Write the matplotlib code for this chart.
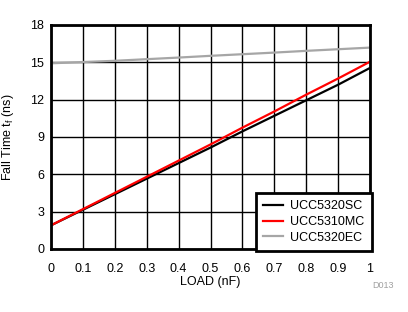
import matplotlib

matplotlib.use("Agg")
import matplotlib.pyplot as plt

plt.rcParams["font.family"] = ["Liberation Sans", "DejaVu Sans"]

load_nf = [0.0, 0.1, 0.2, 0.3, 0.4, 0.5, 0.6, 0.7, 0.8, 0.9, 1.0]
ucc5320sc = [1.9, 3.15, 4.4, 5.65, 6.9, 8.15, 9.45, 10.7, 11.95, 13.2, 14.55]
ucc5310mc = [1.9, 3.2, 4.5, 5.8, 7.1, 8.4, 9.75, 11.05, 12.4, 13.7, 15.05]
ucc5320ec = [14.92, 15.02, 15.12, 15.25, 15.38, 15.52, 15.65, 15.78, 15.92, 16.05, 16.18]

series = [
    ("UCC5320SC", ucc5320sc, "#000000"),
    ("UCC5310MC", ucc5310mc, "#ff0000"),
    ("UCC5320EC", ucc5320ec, "#a6a6a6"),
]

fig = plt.figure(figsize=(4.08, 3.12), dpi=100)
ax = fig.add_axes([0.125, 0.202, 0.782, 0.718])

for name, vals, color in series:
    ax.plot(load_nf, vals, color=color, linewidth=1.6, label=name)

ax.set_xlim(0, 1)
ax.set_ylim(0, 18)
ax.set_xticks([i / 10 for i in range(11)])
ax.set_xticklabels(["0", "0.1", "0.2", "0.3", "0.4", "0.5", "0.6", "0.7", "0.8", "0.9", "1"])
ax.set_yticks(range(0, 19, 3))
ax.grid(True, color="black", linewidth=1)
ax.set_axisbelow(True)
for sp in ax.spines.values():
    sp.set_linewidth(2)
ax.tick_params(axis="x", length=0, labelsize=9, pad=10)
ax.tick_params(axis="y", length=0, labelsize=9, pad=5)
ax.set_xlabel("LOAD (nF)", fontsize=9, labelpad=1)
ax.set_ylabel("Fall Time t$_\\mathregular{f}$ (ns)", fontsize=9, labelpad=10)

leg = ax.legend(loc="lower right", bbox_to_anchor=(1.005, -0.01), fontsize=9,
                frameon=True, fancybox=False, borderpad=0.6, handlelength=1.6,
                labelspacing=0.3, handletextpad=0.55, borderaxespad=0)
leg.get_frame().set_edgecolor("black")
leg.get_frame().set_linewidth(2)
leg.get_frame().set_alpha(1)

fig.text(0.965, 0.085, "D013", fontsize=6.5, color="#a0a0a0", ha="right", va="center")

fig.savefig("out.png", dpi=100)
